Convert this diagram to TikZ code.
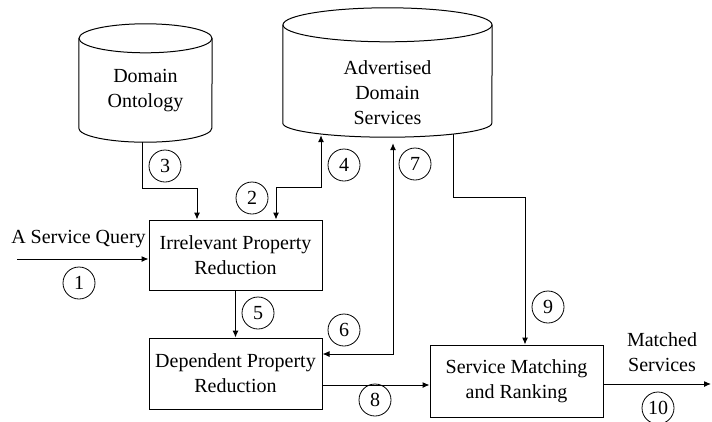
\documentclass[tikz,border=0pt]{standalone}
\usepackage{fontspec}
\setmainfont{Liberation Serif}
\usetikzlibrary{positioning,arrows.meta}
\tikzset{
  >={Latex[length=7pt,width=6pt]},
  proc/.style={rectangle, draw=black, line width=1pt, minimum width=173pt, align=center, inner sep=0pt},
  store/.style={rectangle, inner sep=0pt},
  storeline/.style={draw=black, line width=1pt},
  txt/.style={align=center, inner sep=0pt},
  num/.style={circle, draw=black, line width=0.8pt, minimum size=32pt, inner sep=0pt},
  myarrow/.style={draw, line width=1pt},
}
\begin{document}
\begin{tikzpicture}[x=1pt, y=-1pt, font=\fontsize{20}{25}\selectfont]
  \useasboundingbox (0,0) rectangle (712,421);

  % data stores
  \node[store, minimum width=133pt, minimum height=118pt] (onto) at (145.5,83) {};
  \path[storeline] ([yshift=-14.5pt]onto.north) ellipse [x radius=66.5, y radius=14.5];
  \path[storeline] ([yshift=-14.5pt]onto.north west) -- ([yshift=14pt]onto.south west)
    arc[start angle=180, end angle=0, x radius=66.5, y radius=14] -- ([yshift=-14.5pt]onto.north east);
  \node[txt] (ontotxt) at (145.5,90.5) {Domain\\Ontology};

  \node[store, minimum width=209pt, minimum height=129pt] (adsrv) at (387.5,72.5) {};
  \path[storeline] ([yshift=-17pt]adsrv.north) ellipse [x radius=104.5, y radius=17];
  \path[storeline] ([yshift=-17pt]adsrv.north west) -- ([yshift=14pt]adsrv.south west)
    arc[start angle=180, end angle=0, x radius=104.5, y radius=14] -- ([yshift=-17pt]adsrv.north east);
  \node[txt] (adsrvtxt) at (387.5,93) {Advertised\\Domain\\Services};

  % processes
  \node[proc, minimum height=70pt] (irred) at (235.5,255) {Irrelevant Property\\Reduction};
  \node[proc, minimum height=71pt, below=47pt of irred] (depred) {Dependent Property\\Reduction};
  \node[proc, minimum height=72pt] (match) at (516.5,381) {Service Matching\\and Ranking};

  \node[txt] (qlab) at (78.5,239) {A Service Query};
  \node[txt] (mlab) at (662,352) {Matched\\Services};
  \coordinate (qin) at (17,259);
  \coordinate (mout) at (711,384);

  % step numbers
  \node[num] (n1) at (79,283) {1};
  \node[num] (n2) at (252,198) {2};
  \node[num] (n3) at (165,166) {3};
  \node[num] (n4) at (344,165) {4};
  \node[num] (n5) at (258,313) {5};
  \node[num] (n6) at (344,330) {6};
  \node[num] (n7) at (415,164) {7};
  \node[num] (n8) at (375,400) {8};
  \node[num] (n9) at (548,307) {9};
  \node[num] (n10) at (658,408) {10};

  \path[myarrow,->] (qin) -- (qin -| irred.west);
  \path[myarrow,->] ([xshift=-3.5pt]onto.south) -- ++(0,46) -| ([xshift=-38.5pt]irred.north);
  \path[myarrow,<->] ([xshift=40.5pt]irred.north) -- ++(0,-32) -| ([shift={(-66.5,-2)}]adsrv.south);
  \path[myarrow,<->] ([shift={(5.5,6)}]adsrv.south) |- ([yshift=19.5pt]depred.east);
  \path[myarrow,->] (irred) -- (depred);
  \path[myarrow,->] ([yshift=-11.5pt]depred.east) -- ([yshift=-11.5pt]depred.east -| match.west);
  \path[myarrow,->] ([shift={(65.5,-3)}]adsrv.south) -- ++(0,63) -| ([xshift=8.5pt]match.north);
  \path[myarrow,->] ([yshift=-3pt]match.east) -- (mout);
\end{tikzpicture}
\end{document}
